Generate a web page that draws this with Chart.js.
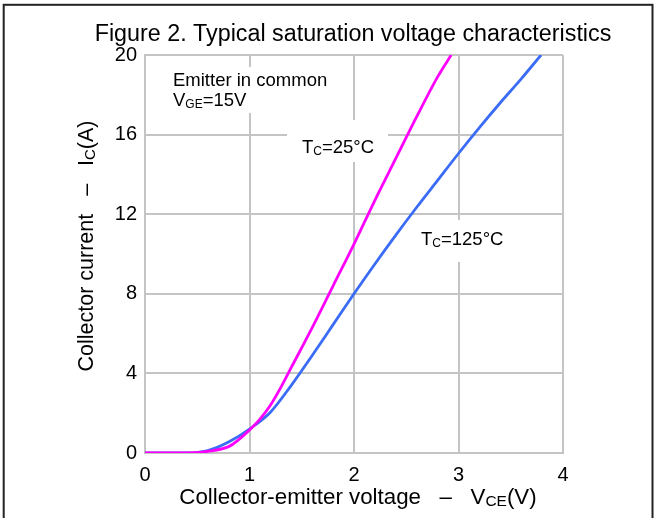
<!DOCTYPE html>
<html>
<head>
<meta charset="utf-8">
<script src="https://cdn.jsdelivr.net/npm/chart.js@4/dist/chart.umd.min.js"></script>
<style>
	body { margin: 0; background: #fff; }
	#chart { display: block; }
</style>
</head>
<body>
<canvas id="chart" width="656" height="518"></canvas>
<script>
// values
const vce_25 = [0, 0.4, 0.6, 0.8, 0.9, 1.0, 1.1, 1.2, 1.3, 1.4, 1.6, 1.8, 2.0, 2.2, 2.4, 2.6, 2.8, 2.93];
const ic_25 = [0, 0, 0.08, 0.32, 0.68, 1.15, 1.7, 2.4, 3.3, 4.3, 6.3, 8.4, 10.5, 12.7, 14.8, 16.9, 18.9, 20];
const vce_125 = [0, 0.4, 0.6, 0.8, 1.0, 1.2, 1.4, 1.6, 1.8, 2.0, 2.2, 2.4, 2.6, 2.8, 3.0, 3.2, 3.4, 3.6, 3.79];
const ic_125 = [0, 0, 0.12, 0.55, 1.2, 2.05, 3.4, 4.9, 6.45, 8.0, 9.5, 10.95, 12.35, 13.7, 15.05, 16.35, 17.6, 18.8, 20];

const x_ticks = [0, 1, 2, 3, 4];
const y_ticks = [0, 4, 8, 12, 16, 20];

const font_family = "'Liberation Sans', Arial, sans-serif";
const grid_color = "#c4c4c4";

let to_points = (xs, ys) => xs.map((x, i) => ({ x: x, y: ys[i] }));

// draw text pieces, some as subscripts; parts = [[text, is_sub], ...]
let draw_rich = (ctx, parts, x, y, size, sub_size, align) => {
	let widths = parts.map(([t, sub]) => {
		ctx.font = `${sub ? sub_size : size}px ${font_family}`;
		return ctx.measureText(t).width;
	});
	let total = widths.reduce((a, b) => a + b, 0);
	let cx = align === "center" ? x - total / 2 : x;
	ctx.textAlign = "left";
	ctx.textBaseline = "alphabetic";
	parts.forEach(([t, sub], i) => {
		ctx.font = `${sub ? sub_size : size}px ${font_family}`;
		ctx.fillText(t, cx, sub ? y + 2 : y);
		cx += widths[i];
	});
};

const labels_plugin = {
	id: "labels",
	beforeDatasetsDraw: (chart) => {
		const ctx = chart.ctx;
		ctx.save();
		ctx.fillStyle = "#fff";
		ctx.fillRect(166, 67, 170, 46);
		ctx.fillRect(287, 120, 101, 42);
		ctx.fillRect(412, 220, 100, 42);
		ctx.fillStyle = "#000";
		ctx.font = `18.5px ${font_family}`;
		ctx.textAlign = "left";
		ctx.textBaseline = "alphabetic";
		ctx.fillText("Emitter in common", 173, 86);
		draw_rich(ctx, [["V", false], ["GE", true], ["=15V", false]], 173, 106, 18.5, 12, "left");
		draw_rich(ctx, [["T", false], ["C", true], ["=25°C", false]], 302, 153, 18.5, 12, "left");
		draw_rich(ctx, [["T", false], ["C", true], ["=125°C", false]], 421, 245, 18.5, 12, "left");
		ctx.restore();
	},
	afterDraw: (chart) => {
		const ctx = chart.ctx;
		ctx.save();
		ctx.strokeStyle = "#222";
		ctx.lineWidth = 2;
		ctx.strokeRect(3.7, 4.8, 648.8, 600);
		ctx.fillStyle = "#000";
		ctx.font = `23.3px ${font_family}`;
		ctx.textAlign = "center";
		ctx.textBaseline = "alphabetic";
		ctx.fillText("Figure 2. Typical saturation voltage characteristics", 353, 41);
		draw_rich(ctx, [["Collector-emitter voltage   \u2013   V", false], ["CE", true], ["(V)", false]], 358, 504, 22.3, 15.5, "center");
		ctx.translate(93, 246);
		ctx.rotate(-Math.PI / 2);
		draw_rich(ctx, [["Collector current   \u2013   I", false], ["C", true], ["(A)", false]], 0, 0, 21.5, 15, "center");
		ctx.restore();
	}
};

const config = {
	type: "line",
	data: {
		datasets: [
			{
				label: "Tc=25°C",
				data: to_points(vce_25, ic_25),
				borderColor: "#ff00ff",
				borderWidth: 2.8,
				pointRadius: 0,
				cubicInterpolationMode: "monotone"
			},
			{
				label: "Tc=125°C",
				data: to_points(vce_125, ic_125),
				borderColor: "#3a6cf6",
				borderWidth: 2.8,
				pointRadius: 0,
				cubicInterpolationMode: "monotone"
			}
		]
	},
	options: {
		responsive: false,
		animation: false,
		layout: { padding: { top: 55, right: 93, left: 0, bottom: 0 } },
		plugins: {
			legend: { display: false },
			tooltip: { enabled: false }
		},
		scales: {
			x: {
				type: "linear",
				min: 0,
				max: 4,
				afterBuildTicks: (scale) => { scale.ticks = x_ticks.map(v => ({ value: v })); },
				afterFit: (scale) => { scale.height = 65; },
				grid: { color: grid_color, lineWidth: 2, drawTicks: false },
				border: { color: grid_color, width: 2 },
				ticks: { color: "#000", padding: 10, font: { family: font_family, size: 20 } }
			},
			y: {
				type: "linear",
				min: 0,
				max: 20,
				afterBuildTicks: (scale) => { scale.ticks = y_ticks.map(v => ({ value: v })); },
				afterFit: (scale) => { scale.width = 145; },
				grid: { color: grid_color, lineWidth: 2, drawTicks: false },
				border: { color: grid_color, width: 2 },
				ticks: { color: "#000", padding: 8, font: { family: font_family, size: 20 } }
			}
		}
	},
	plugins: [labels_plugin]
};

new Chart(document.getElementById("chart"), config);
</script>
</body>
</html>
